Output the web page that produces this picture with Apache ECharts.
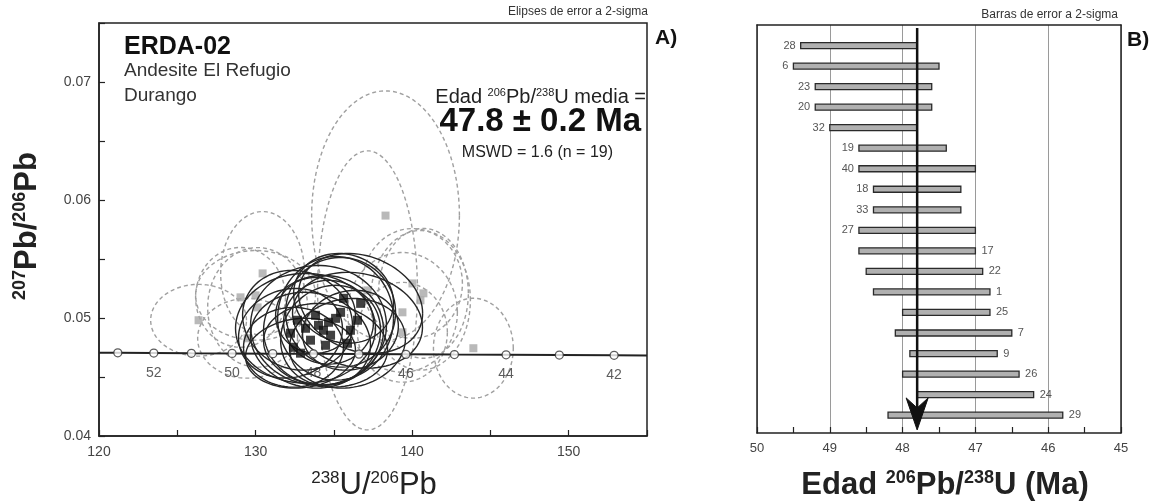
<!DOCTYPE html>
<html><head><meta charset="utf-8">
<script src="https://cdn.jsdelivr.net/npm/echarts@6/dist/echarts.min.js"></script>
<style>html,body{margin:0;padding:0;background:#fff}#c{width:1154px;height:503px}</style>
</head><body><div id="c"></div>
<script>
// ---------- Panel A: Tera-Wasserburg diagram ----------
const concordiaAges = [53, 52, 51, 50, 49, 48, 47, 46, 45, 44, 43, 42];
const concordiaX = [121.2, 123.5, 125.9, 128.5, 131.1, 133.7, 136.6, 139.6, 142.7, 146.0, 149.4, 152.9];
const concordiaY = [0.04705, 0.04703, 0.04701, 0.04700, 0.04698, 0.04696, 0.04694, 0.04692, 0.04690, 0.04688, 0.04686, 0.04684];
const concordiaEndX = [120, 155];
const concordiaEndY = [0.04706, 0.04682];
const concordiaLabelAges = [52, 50, 48, 46, 44, 42];

// rejected analyses (dashed): [x, y, 2s x, 2s y, rho]
const dashedEllipses = [
  [138.30, 0.05868, 4.72, 0.01057, 0.0],
  [137.15, 0.05234, 3.19, 0.01183, 0.0],
  [126.36, 0.04981, 3.06, 0.00304, 0.0],
  [130.45, 0.05378, 2.68, 0.00524, 0.0],
  [129.04, 0.05175, 2.87, 0.00423, 0.0],
  [130.00, 0.05192, 3.83, 0.00380, 0.0],
  [130.13, 0.05090, 3.19, 0.00507, 0.0],
  [129.49, 0.04828, 3.19, 0.00338, 0.0],
  [140.02, 0.05293, 3.19, 0.00465, 0.0],
  [140.72, 0.05209, 2.87, 0.00550, 0.0],
  [139.38, 0.05048, 3.51, 0.00507, 0.0],
  [139.38, 0.04879, 2.87, 0.00423, 0.0],
  [143.91, 0.04744, 2.55, 0.00423, 0.0],
  [140.53, 0.05150, 3.19, 0.00592, 0.0]
];
// accepted analyses (solid): [x, y, 2s x, 2s y, rho]
const solidEllipses = [
  [132.68, 0.04981, 3.51, 0.00423, -0.1],
  [132.23, 0.04871, 3.32, 0.00380, 0.1],
  [134.34, 0.04896, 3.83, 0.00465, 0.0],
  [135.62, 0.05167, 3.19, 0.00380, -0.1],
  [136.71, 0.05124, 3.96, 0.00423, -0.2],
  [135.43, 0.05048, 3.51, 0.00465, 0.0],
  [135.87, 0.04786, 3.70, 0.00380, 0.1],
  [136.51, 0.04981, 4.15, 0.00406, -0.15],
  [132.42, 0.04752, 3.19, 0.00338, 0.0],
  [132.87, 0.04702, 3.51, 0.00296, 0.1],
  [134.02, 0.04938, 4.34, 0.00507, 0.0],
  [134.79, 0.04854, 3.19, 0.00423, 0.1],
  [134.66, 0.04964, 2.87, 0.00355, 0.0],
  [133.51, 0.04812, 3.83, 0.00406, -0.1],
  [135.11, 0.04997, 3.70, 0.00524, 0.0],
  [136.06, 0.04896, 3.06, 0.00338, 0.1],
  [133.83, 0.05023, 2.55, 0.00321, 0.0],
  [134.47, 0.04769, 3.96, 0.00355, -0.1],
  [133.19, 0.04913, 4.47, 0.00465, 0.0]
];

// ---------- Panel B: weighted mean ages ----------
const grainLabels = ['28','6','23','20','32','19','40','18','33','27','17','22','1','25','7','9','26','24','29'];
const ageOld =   [49.4, 49.5, 49.2, 49.2, 49.0, 48.6, 48.6, 48.4, 48.4, 48.6, 48.6, 48.5, 48.4, 48.0, 48.1, 47.9, 48.0, 47.8, 48.2];
const ageYoung = [47.8, 47.5, 47.6, 47.6, 47.8, 47.4, 47.0, 47.2, 47.2, 47.0, 47.0, 46.9, 46.8, 46.8, 46.5, 46.7, 46.4, 46.2, 45.8];
const meanAge = 47.8;
const labelsLeftCount = 10;

const FF = '"Liberation Sans", Arial, Helvetica, sans-serif';

function ellipseRenderer(stroke, width, dash) {
  return function (params, api) {
    const cx = api.value(0), cy = api.value(1), sx = api.value(2), sy = api.value(3), rho = api.value(4);
    const r2 = Math.sqrt(1 - rho * rho);
    const pts = [];
    for (let i = 0; i <= 90; i++) {
      const t = i / 90 * 2 * Math.PI;
      pts.push(api.coord([cx + sx * Math.cos(t), cy + sy * (rho * Math.cos(t) + r2 * Math.sin(t))]));
    }
    return { type: 'polyline', shape: { points: pts },
      style: { fill: null, stroke: stroke, lineWidth: width, lineDash: dash } };
  };
}

const chart = echarts.init(document.getElementById('c'), null, { renderer: 'canvas' });

const option = {
  animation: false,
  backgroundColor: '#fff',
  grid: [
    { left: 99, top: 23, width: 548, height: 413, show: true, borderColor: '#222', borderWidth: 1.5, backgroundColor: 'transparent' },
    { left: 757, top: 25, width: 364, height: 408 }
  ],
  xAxis: [
    { gridIndex: 0, type: 'value', min: 120, max: 155, interval: 5,
      axisLine: { onZero: false, lineStyle: { color: '#222', width: 1.5 } },
      axisTick: { inside: true, length: 6, lineStyle: { color: '#222', width: 1.2 } },
      axisLabel: { fontFamily: FF, fontSize: 14, color: '#444', margin: 9,
        formatter: v => (Math.round(v) % 10 === 0 ? String(Math.round(v)) : '') },
      splitLine: { show: false } },
    { gridIndex: 1, type: 'value', min: 45, max: 50, inverse: true, interval: 1, position: 'bottom',
      axisLine: { onZero: false, lineStyle: { color: '#222', width: 1.5 } },
      axisTick: { inside: true, length: 6, lineStyle: { color: '#222', width: 1.2 } },
      minorTick: { show: true, splitNumber: 2, length: 6, lineStyle: { color: '#222', width: 1.2 } },
      axisLabel: { fontFamily: FF, fontSize: 13, color: '#444', margin: 9 },
      splitLine: { show: true, lineStyle: { color: '#9a9a9a', width: 1 } } },
    { gridIndex: 1, type: 'value', min: 45, max: 50, inverse: true, position: 'top', z: 5,
      axisLine: { onZero: false, lineStyle: { color: '#222', width: 1.5 } },
      axisTick: { show: false }, axisLabel: { show: false }, splitLine: { show: false } }
  ],
  yAxis: [
    { gridIndex: 0, type: 'value', min: 0.04, max: 0.075, interval: 0.005,
      axisLine: { onZero: false, lineStyle: { color: '#222', width: 1.5 } },
      axisTick: { inside: true, length: 6, lineStyle: { color: '#222', width: 1.2 } },
      axisLabel: { fontFamily: FF, fontSize: 14, color: '#444', margin: 8,
        formatter: v => { const k = Math.round(v * 1000); return k % 10 === 0 ? (k / 1000).toFixed(2) : ''; } },
      splitLine: { show: false } },
    { gridIndex: 1, type: 'value', min: -1, max: 18.87, inverse: true, position: 'left', z: 5,
      axisLine: { show: true, onZero: false, lineStyle: { color: '#222', width: 1.5 } },
      axisTick: { show: false }, axisLabel: { show: false }, splitLine: { show: false } },
    { gridIndex: 1, type: 'value', min: -1, max: 18.87, inverse: true, position: 'right', z: 5,
      axisLine: { show: true, onZero: false, lineStyle: { color: '#222', width: 1.5 } },
      axisTick: { show: false }, axisLabel: { show: false }, splitLine: { show: false } }
  ],
  series: [
    { type: 'custom', xAxisIndex: 0, yAxisIndex: 0, z: 1, silent: true,
      renderItem: ellipseRenderer('#a0a0a0', 1.4, [4, 3]), data: dashedEllipses },
    { type: 'scatter', xAxisIndex: 0, yAxisIndex: 0, z: 2, silent: true, symbol: 'rect', symbolSize: 8,
      itemStyle: { color: '#a8a8a8' }, data: dashedEllipses.map(e => [e[0], e[1]]) },
    { type: 'custom', xAxisIndex: 0, yAxisIndex: 0, z: 3, silent: true,
      renderItem: ellipseRenderer('#262626', 1.4, null), data: solidEllipses },
    { type: 'scatter', xAxisIndex: 0, yAxisIndex: 0, z: 4, silent: true, symbol: 'rect', symbolSize: 9,
      itemStyle: { color: '#111' }, data: solidEllipses.map(e => [e[0], e[1]]) },
    { type: 'line', xAxisIndex: 0, yAxisIndex: 0, z: 5, silent: true, symbol: 'none',
      lineStyle: { color: '#222', width: 2 },
      data: [[concordiaEndX[0], concordiaEndY[0]]].concat(concordiaX.map((x, i) => [x, concordiaY[i]]), [[concordiaEndX[1], concordiaEndY[1]]]) },
    { type: 'scatter', xAxisIndex: 0, yAxisIndex: 0, z: 6, silent: true, symbol: 'circle', symbolSize: 8,
      itemStyle: { color: '#fff', borderColor: '#333', borderWidth: 1.3 },
      label: { show: true, position: 'bottom', distance: 8, fontFamily: FF, fontSize: 14, color: '#333',
        formatter: p => (concordiaLabelAges.indexOf(concordiaAges[p.dataIndex]) >= 0 ? String(concordiaAges[p.dataIndex]) : '') },
      data: concordiaX.map((x, i) => [x, concordiaY[i]]) },
    // Panel B bars
    { type: 'custom', xAxisIndex: 1, yAxisIndex: 1, z: 3, silent: true,
      data: grainLabels.map((g, i) => [i, ageOld[i], ageYoung[i]]),
      renderItem: function (params, api) {
        const i = api.value(0);
        const pa = api.coord([api.value(1), i]);
        const pb = api.coord([api.value(2), i]);
        const x0 = Math.min(pa[0], pb[0]), x1 = Math.max(pa[0], pb[0]);
        const h = 6;
        const left = params.dataIndex < labelsLeftCount;
        return { type: 'group', children: [
          { type: 'rect', shape: { x: x0, y: pa[1] - h / 2, width: x1 - x0, height: h },
            style: { fill: '#b0b0b0', stroke: '#2a2a2a', lineWidth: 1.3 } },
          { type: 'text', style: { text: grainLabels[params.dataIndex], x: left ? x0 - 5 : x1 + 6, y: pa[1],
            align: left ? 'right' : 'left', verticalAlign: 'middle', font: '11px ' + FF, fill: '#555' } }
        ] };
      } },
    // mean age line with arrow
    { type: 'custom', xAxisIndex: 1, yAxisIndex: 1, z: 6, silent: true,
      data: [[meanAge]],
      renderItem: function (params, api) {
        const top = api.coord([api.value(0), -0.85]);
        const tip = api.coord([api.value(0), 18.72]);
        const x = tip[0];
        return { type: 'group', children: [
          { type: 'line', shape: { x1: x, y1: top[1], x2: x, y2: tip[1] - 20 }, style: { stroke: '#111', lineWidth: 2.5 } },
          { type: 'polygon', shape: { points: [[x, tip[1]], [x - 11, tip[1] - 32], [x, tip[1] - 22], [x + 11, tip[1] - 32]] },
            style: { fill: '#111', stroke: '#111', lineWidth: 1 } }
        ] };
      } }
  ],
  graphic: [
    { type: 'text', x: 648, y: 12, style: { text: 'Elipses de error a 2-sigma', font: '12px ' + FF, fill: '#333', align: 'right', verticalAlign: 'middle', textAlign: 'right', textVerticalAlign: 'middle' } },
    { type: 'text', x: 1118, y: 15, style: { text: 'Barras de error a 2-sigma', font: '12px ' + FF, fill: '#333', align: 'right', verticalAlign: 'middle', textAlign: 'right', textVerticalAlign: 'middle' } },
    { type: 'text', x: 655, y: 38, style: { text: 'A)', font: 'bold 21px ' + FF, fill: '#111', verticalAlign: 'middle', textVerticalAlign: 'middle' } },
    { type: 'text', x: 1127, y: 40, style: { text: 'B)', font: 'bold 21px ' + FF, fill: '#111', verticalAlign: 'middle', textVerticalAlign: 'middle' } },
    { type: 'text', x: 124, y: 47, style: { text: 'ERDA-02', font: 'bold 25px ' + FF, fill: '#111', verticalAlign: 'middle', textVerticalAlign: 'middle' } },
    { type: 'text', x: 124, y: 71, style: { text: 'Andesite El Refugio', font: '19px ' + FF, fill: '#333', verticalAlign: 'middle', textVerticalAlign: 'middle' } },
    { type: 'text', x: 124, y: 96, style: { text: 'Durango', font: '19px ' + FF, fill: '#333', verticalAlign: 'middle', textVerticalAlign: 'middle' } },
    { type: 'text', x: 646, y: 97, style: { text: 'Edad {s|206}Pb/{s|238}U media =', font: '20px ' + FF, fill: '#222', align: 'right', verticalAlign: 'middle', textAlign: 'right', textVerticalAlign: 'middle',
        rich: { s: { fontSize: 11, verticalAlign: 'top', fontFamily: FF, fill: '#222' } } } },
    { type: 'text', x: 641, y: 122, style: { text: '47.8 \u00b1 0.2 Ma', font: 'bold 33px ' + FF, fill: '#111', align: 'right', verticalAlign: 'middle', textAlign: 'right', textVerticalAlign: 'middle' } },
    { type: 'text', x: 613, y: 153, style: { text: 'MSWD = 1.6 (n = 19)', font: '16px ' + FF, fill: '#222', align: 'right', verticalAlign: 'middle', textAlign: 'right', textVerticalAlign: 'middle' } },
    { type: 'text', x: 374, y: 485, style: { text: '{s|238}U/{s|206}Pb', font: '31px ' + FF, fill: '#222', align: 'center', verticalAlign: 'middle', textAlign: 'center', textVerticalAlign: 'middle',
        rich: { s: { fontSize: 17, verticalAlign: 'top', fontFamily: FF, fill: '#222' } } } },
    { type: 'text', x: 27, y: 226, rotation: Math.PI / 2, style: { text: '{s|207}Pb/{s|206}Pb', font: 'bold 31px ' + FF, fill: '#222', align: 'center', verticalAlign: 'middle', textAlign: 'center', textVerticalAlign: 'middle',
        rich: { s: { fontSize: 18, fontWeight: 'bold', verticalAlign: 'top', fontFamily: FF, fill: '#222' } } } },
    { type: 'text', x: 945, y: 485, style: { text: 'Edad {s|206}Pb/{s|238}U (Ma)', font: 'bold 31px ' + FF, fill: '#222', align: 'center', verticalAlign: 'middle', textAlign: 'center', textVerticalAlign: 'middle',
        rich: { s: { fontSize: 18, fontWeight: 'bold', verticalAlign: 'top', fontFamily: FF, fill: '#222' } } } }
  ]
};
chart.setOption(option);
</script>
</body></html>
